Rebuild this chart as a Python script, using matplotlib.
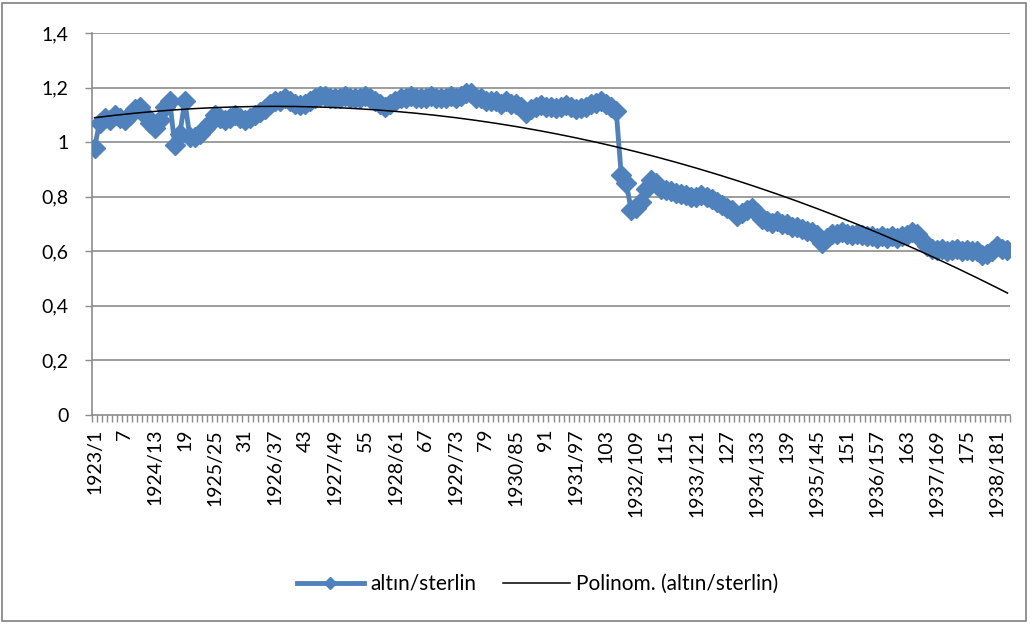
import matplotlib
matplotlib.use("Agg")
import matplotlib.pyplot as plt
import numpy as np
from matplotlib.patches import Rectangle

# ----- Data ---------------------------------------------------------------

# altın/sterlin, one value per month, 1923/1 .. 1938/183
ratio = [
    0.98, 1.07, 1.09, 1.08, 1.10, 1.09, 1.08, 1.10, 1.12, 1.13,
    1.10, 1.07, 1.05, 1.08, 1.13, 1.15, 0.99, 1.03, 1.15, 1.02,
    1.02, 1.03, 1.05, 1.07, 1.10, 1.09, 1.08, 1.09, 1.10, 1.09,
    1.08, 1.09, 1.10, 1.11, 1.12, 1.14, 1.15, 1.15, 1.16, 1.15,
    1.14, 1.135, 1.14, 1.15, 1.16, 1.17, 1.17, 1.16, 1.16, 1.16,
    1.17, 1.16, 1.16, 1.16, 1.17, 1.16, 1.15, 1.14, 1.13, 1.14,
    1.15, 1.16, 1.16, 1.17, 1.16, 1.16, 1.16, 1.17, 1.16, 1.16,
    1.16, 1.17, 1.16, 1.17, 1.18, 1.18, 1.16, 1.16, 1.15, 1.15,
    1.15, 1.14, 1.15, 1.14, 1.14, 1.13, 1.105, 1.12, 1.13, 1.135,
    1.13, 1.13, 1.125, 1.13, 1.135, 1.13, 1.12, 1.125, 1.13, 1.14,
    1.145, 1.15, 1.14, 1.13, 1.115, 0.88, 0.85, 0.75, 0.76, 0.78,
    0.83, 0.86, 0.85, 0.83, 0.825, 0.82, 0.815, 0.81, 0.805, 0.80,
    0.80, 0.805, 0.80, 0.79, 0.78, 0.77, 0.76, 0.75, 0.73, 0.74,
    0.75, 0.76, 0.74, 0.72, 0.71, 0.705, 0.71, 0.70, 0.70, 0.69,
    0.69, 0.68, 0.675, 0.67, 0.66, 0.63, 0.65, 0.665, 0.665, 0.67,
    0.665, 0.66, 0.665, 0.66, 0.655, 0.655, 0.65, 0.655, 0.65, 0.655,
    0.65, 0.655, 0.66, 0.67, 0.665, 0.64, 0.62, 0.61, 0.605, 0.61,
    0.60, 0.605, 0.61, 0.60, 0.605, 0.60, 0.60, 0.585, 0.59, 0.60,
    0.62, 0.61, 0.605,
]

tick_labels = [
    "1923/1", "7", "1924/13", "19", "1925/25", "31", "1926/37", "43",
    "1927/49", "55", "1928/61", "67", "1929/73", "79", "1930/85", "91",
    "1931/97", "103", "1932/109", "115", "1933/121", "127", "1934/133",
    "139", "1935/145", "151", "1936/157", "163", "1937/169", "175",
    "1938/181",
]

y_ticks = [0, 0.2, 0.4, 0.6, 0.8, 1.0, 1.2, 1.4]

# ----- Plot ---------------------------------------------------------------

plt.rcParams["font.family"] = ["Lato", "DejaVu Sans"]

blue = "#4F81BD"
grid = "#8C8C8C"

fig = plt.figure(figsize=(10.3, 6.25), dpi=100)
ax = fig.add_axes([92 / 1030, 1 - 415 / 625, 918 / 1030, 382 / 625])

y = np.array(ratio)
x = np.arange(len(y))

ax.plot(x, y, color=blue, lw=3.5, marker="D", ms=10.5,
        markeredgecolor=blue, label="altın/sterlin", zorder=3)

# Excel-style polynomial trend (order 2) on category index 1..n
coef = np.polyfit(x + 1, y, 2)
ax.plot(x, np.polyval(coef, x + 1), color="black", lw=1.1,
        label="Polinom. (altın/sterlin)", zorder=4)

ax.set_xlim(-0.5, len(y) - 0.5)
ax.set_ylim(0, 1.4)

ax.set_yticks(y_ticks)
ax.set_yticklabels([f"{v:g}".replace(".", ",") for v in y_ticks], fontsize=14)
for v in y_ticks[1:]:
    ax.axhline(v, color=grid, lw=1.2, zorder=1)

ax.set_xticks(np.arange(0, len(y), 6))
ax.set_xticklabels(tick_labels, rotation=90, fontsize=14)
ax.set_xticks(np.arange(-0.5, len(y), 1), minor=True)
ax.tick_params(axis="x", which="major", length=0, pad=10)
ax.tick_params(axis="x", which="minor", length=5, color=grid, width=1)
ax.tick_params(axis="y", length=5, color=grid, width=1, pad=12)

for side in ("top", "right"):
    ax.spines[side].set_visible(False)
for side in ("left", "bottom"):
    ax.spines[side].set_color(grid)
    ax.spines[side].set_linewidth(1.2)

fig.legend(loc="center", bbox_to_anchor=(0.522, 1 - 584 / 625), ncol=2,
           frameon=False, fontsize=15, handlelength=3.2, handletextpad=0.3,
           columnspacing=1.3, markerscale=0.6)

fig.patches.append(Rectangle((0.002, 0.006), 0.994, 0.99,
                             transform=fig.transFigure, fill=False,
                             edgecolor="#808080", lw=1.2))

fig.savefig("out.png", dpi=100)
plt.close(fig)
